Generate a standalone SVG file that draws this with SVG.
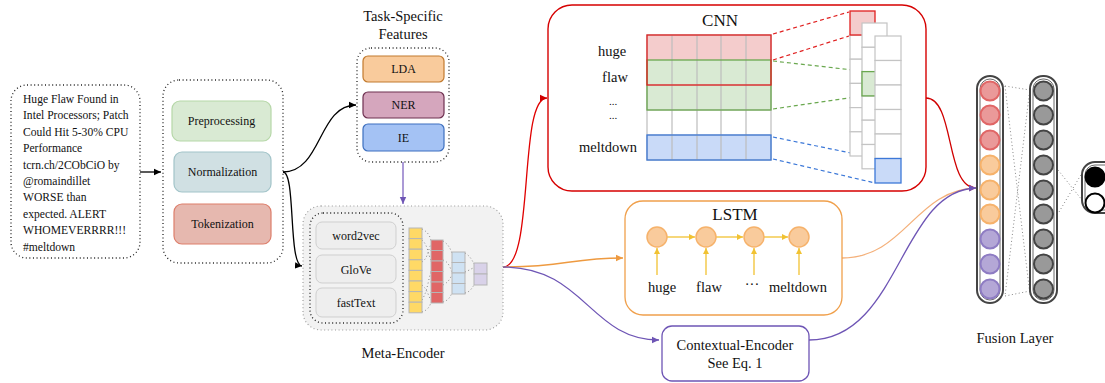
<svg xmlns="http://www.w3.org/2000/svg" width="1105" height="383" viewBox="0 0 1105 383">
<defs>
<style>
text{font-family:"Liberation Serif","Times New Roman",serif;fill:#111;}
.c{text-anchor:middle;}
.dot{fill:none;stroke:#222;stroke-width:1.3;stroke-dasharray:1 2.6;}
.gdot{fill:none;stroke:#888;stroke-width:1;stroke-dasharray:1 2.5;}
.cell{stroke:#b5b5b5;stroke-width:1;}
.fm{fill:#fff;stroke:#c4c4c4;stroke-width:1.2;}
.wire{fill:none;stroke-width:1.3;}
</style>
<marker id="ak" markerWidth="8" markerHeight="8" refX="7" refY="4" orient="auto" markerUnits="userSpaceOnUse"><path d="M0,0.8 L7,4 L0,7.2 Z" fill="#000"/></marker>
<marker id="ar" markerWidth="8" markerHeight="8" refX="7" refY="4" orient="auto" markerUnits="userSpaceOnUse"><path d="M0,0.8 L7,4 L0,7.2 Z" fill="#d00000"/></marker>
<marker id="ao" markerWidth="8" markerHeight="8" refX="7" refY="4" orient="auto" markerUnits="userSpaceOnUse"><path d="M0,0.8 L7,4 L0,7.2 Z" fill="#ee9a40"/></marker>
<marker id="ap" markerWidth="8" markerHeight="8" refX="7" refY="4" orient="auto" markerUnits="userSpaceOnUse"><path d="M0,0.8 L7,4 L0,7.2 Z" fill="#6e55b5"/></marker>
<marker id="ay" markerWidth="7" markerHeight="7" refX="6" refY="3.5" orient="auto" markerUnits="userSpaceOnUse"><path d="M0,0.5 L6,3.5 L0,6.5 Z" fill="#f1c232"/></marker>
</defs>

<g id="connectors">
<path class="wire" stroke="#000" d="M140,172 L161,172" marker-end="url(#ak)"/>
<path class="wire" stroke="#000" d="M283,172 C322,172 318,105 356,105" marker-end="url(#ak)"/>
<path class="wire" stroke="#000" d="M283,172 C296,172 288,265 302,266" marker-end="url(#ak)"/>
<path class="wire" stroke="#7e64c0" d="M403,162 L403,204" marker-end="url(#ap)"/>
<path class="wire" stroke="#e00000" d="M503,267 C535,267 518,98 547,98" marker-end="url(#ar)"/>
<path class="wire" stroke="#ee9a40" d="M503,267 C565,267 570,258 623,258" marker-end="url(#ao)"/>
<path class="wire" stroke="#6e55b5" d="M503,267 C585,267 590,340 659,340" marker-end="url(#ap)"/>
<path class="wire" stroke="#d00000" d="M926,98 C955,98 945,188 976,188" marker-end="url(#ar)"/>
<path class="wire" stroke="#f4b07a" d="M842,258 C905,258 915,190 976,188"/>
<path class="wire" stroke="#6e55b5" d="M809,340 C900,340 900,190 976,188" marker-end="url(#ap)"/>
</g>

<g id="tweet">
<rect x="11" y="85" width="129" height="173" rx="16" fill="#eeeeee" class="dot"/>
<g font-size="11.6">
<text x="23" y="103">Huge Flaw Found in</text>
<text x="23" y="119.4">Intel Processors; Patch</text>
<text x="23" y="135.8">Could Hit 5-30% CPU</text>
<text x="23" y="152.2">Performance</text>
<text x="23" y="168.6">tcrn.ch/2CObCiO by</text>
<text x="23" y="185">@romaindillet</text>
<text x="23" y="201.4">WORSE than</text>
<text x="23" y="217.8">expected. ALERT</text>
<text x="23" y="234.2">WHOMEVERRRR!!!</text>
<text x="23" y="250.6">#meltdown</text>
</g>
</g>

<g id="preprocessing-group">
<rect x="163" y="80" width="120" height="183" rx="16" fill="#fff" class="dot"/>
<g id="preprocessing"><rect x="172" y="101" width="99" height="40" rx="8" fill="#d9ead3" stroke="#b6d7a8" stroke-width="1.2"/><text class="c" x="221.5" y="125" font-size="12">Preprocessing</text></g>
<g id="normalization"><rect x="174" y="152" width="97" height="40" rx="8" fill="#d0e0e3" stroke="#a2c4c9" stroke-width="1.2"/><text class="c" x="222.5" y="176" font-size="12">Normalization</text></g>
<g id="tokenization"><rect x="174" y="204" width="97" height="40" rx="8" fill="#e6b8af" stroke="#dd7e6b" stroke-width="1.2"/><text class="c" x="222.5" y="228" font-size="12">Tokenization</text></g>
</g>

<g id="task-features">
<text class="c" x="403" y="21" font-size="14.5">Task-Specific</text>
<text class="c" x="403" y="39" font-size="14.5">Features</text>
<rect x="357" y="48" width="92" height="114" rx="14" fill="#fff" class="dot"/>
<g id="lda"><rect x="363" y="56" width="81" height="26" rx="5" fill="#f9cb9c" stroke="#c27a2e" stroke-width="1.2"/><text class="c" x="403.5" y="73" font-size="12">LDA</text></g>
<g id="ner"><rect x="363" y="92" width="81" height="26" rx="5" fill="#d5a6bd" stroke="#6e3050" stroke-width="1.2"/><text class="c" x="403.5" y="109" font-size="12">NER</text></g>
<g id="ie"><rect x="363" y="124" width="81" height="27" rx="5" fill="#a4c2f4" stroke="#3d6fbf" stroke-width="1.2"/><text class="c" x="403.5" y="142" font-size="12">IE</text></g>
</g>

<g id="meta-encoder">
<rect x="303" y="206" width="200" height="124" rx="18" fill="#f2f2f2" stroke="#999" stroke-width="1.1" stroke-dasharray="1 2.6"/>
<rect x="310" y="213" width="93" height="110" rx="13" fill="none" class="dot"/>
<g id="word2vec"><rect x="316" y="222" width="80" height="27" rx="6" fill="#eeeeee" stroke="#cfcfcf"/><text class="c" x="356" y="240" font-size="12">word2vec</text></g>
<g id="glove"><rect x="316" y="255" width="80" height="28" rx="6" fill="#eeeeee" stroke="#cfcfcf"/><text class="c" x="356" y="273.5" font-size="12">GloVe</text></g>
<g id="fasttext"><rect x="316" y="288" width="80" height="29" rx="6" fill="#eeeeee" stroke="#cfcfcf"/><text class="c" x="356" y="307" font-size="12">fastText</text></g>
<g class="gdot">
<path d="M422,229 C428,232 430,236 431,241"/><path d="M422,240 C428,245 428,255 431,260"/><path d="M422,262 C428,258 428,250 431,244"/><path d="M422,285 C428,290 428,296 431,300"/><path d="M422,300 C428,290 428,280 431,272"/><path d="M422,312 C428,310 430,306 431,302"/>
<path d="M443,241 C448,244 450,248 452,253"/><path d="M443,260 C449,262 450,268 452,272"/><path d="M443,285 C449,282 450,278 452,275"/><path d="M443,302 C449,300 450,297 452,293"/>
<path d="M465,253 C470,256 472,260 474,264"/><path d="M465,272 C470,270 472,268 474,268"/><path d="M465,293 C470,292 472,288 474,285"/>
</g>
<g class="cell" fill="#ffd966">
<rect x="409" y="228" width="13" height="10.6"/><rect x="409" y="238.6" width="13" height="10.6"/><rect x="409" y="249.2" width="13" height="10.6"/><rect x="409" y="259.8" width="13" height="10.6"/><rect x="409" y="270.4" width="13" height="10.6"/><rect x="409" y="281" width="13" height="10.6"/><rect x="409" y="291.6" width="13" height="10.6"/><rect x="409" y="302.2" width="13" height="10.6"/>
</g>
<g class="cell" fill="#e06666">
<rect x="431" y="240" width="12" height="10.5"/><rect x="431" y="250.5" width="12" height="10.5"/><rect x="431" y="261" width="12" height="10.5"/><rect x="431" y="271.5" width="12" height="10.5"/><rect x="431" y="282" width="12" height="10.5"/><rect x="431" y="292.5" width="12" height="10.5"/>
</g>
<g class="cell" fill="#cfe2f3">
<rect x="452" y="252" width="13" height="10.5"/><rect x="452" y="262.5" width="13" height="10.5"/><rect x="452" y="273" width="13" height="10.5"/><rect x="452" y="283.5" width="13" height="10.5"/>
</g>
<g class="cell" fill="#d9d2e9">
<rect x="474" y="263" width="13" height="11"/><rect x="474" y="274" width="13" height="11"/>
</g>
<text class="c" x="403" y="358" font-size="14.5">Meta-Encoder</text>
</g>

<g id="cnn">
<rect x="548" y="5" width="378" height="186" rx="24" fill="#fff" stroke="#d60000" stroke-width="1.4"/>
<text class="c" x="720" y="26" font-size="17">CNN</text>
<g font-size="14.5">
<text class="c" x="612" y="56">huge</text>
<text class="c" x="615" y="82">flaw</text>
<text class="c" x="608" y="152">meltdown</text>
</g>
<g font-size="11">
<text class="c" x="613" y="105">...</text>
<text class="c" x="613" y="119">...</text>
</g>
<rect x="647" y="35" width="124" height="25" fill="#f4cccc"/>
<rect x="647" y="60" width="124" height="50" fill="#d9ead3"/>
<rect x="647" y="110" width="124" height="25" fill="#fff"/>
<rect x="647" y="135" width="124" height="25" fill="#c9daf8"/>
<g stroke="#bdbdbd" stroke-width="1.2">
<path d="M672,35 V160 M697,35 V160 M721,35 V160 M746,35 V160 M647,85 H771 M647,110 H771 M647,135 H771"/>
<rect x="647" y="35" width="124" height="125" fill="none"/>
</g>
<rect x="647" y="60" width="124" height="50" fill="none" stroke="#6aa84f" stroke-width="1.3"/>
<rect x="647" y="35" width="124" height="50" fill="none" stroke="#e02020" stroke-width="1.3"/>
<rect x="647" y="135" width="124" height="25" fill="none" stroke="#3c78d8" stroke-width="1.3"/>
<g fill="none" stroke-width="1.2" stroke-dasharray="4 3">
<path d="M773,34 L849,12 M773,60 L849,36" stroke="#e02020"/>
<path d="M773,61 L862,71 M773,109 L862,96" stroke="#6aa84f"/>
<path d="M773,137 L875,158 M773,159 L875,183" stroke="#3c78d8"/>
</g>
<g class="fm">
<rect x="850" y="35" width="25" height="24.2"/><rect x="850" y="59.2" width="25" height="24.2"/><rect x="850" y="83.4" width="25" height="24.2"/><rect x="850" y="107.6" width="25" height="24.2"/><rect x="850" y="131.8" width="25" height="24.2"/>
</g>
<rect x="850" y="11" width="25" height="24" fill="#f4cccc" stroke="#e02020" stroke-width="1.3"/>
<g class="fm">
<rect x="862" y="23" width="25" height="24.3"/><rect x="862" y="47.3" width="25" height="24.3"/><rect x="862" y="71.6" width="25" height="24.3"/><rect x="862" y="95.9" width="25" height="24.3"/><rect x="862" y="120.2" width="25" height="24.3"/><rect x="862" y="144.5" width="25" height="24.3"/>
</g>
<rect x="862" y="71.6" width="25" height="24.3" fill="#d9ead3" stroke="#6aa84f" stroke-width="1.3"/>
<g class="fm">
<rect x="875" y="36" width="26" height="24.5"/><rect x="875" y="60.5" width="26" height="24.5"/><rect x="875" y="85" width="26" height="24.5"/><rect x="875" y="109.5" width="26" height="24.5"/><rect x="875" y="134" width="26" height="24.5"/>
</g>
<rect x="875" y="158.5" width="26" height="24.5" fill="#c9daf8" stroke="#3c78d8" stroke-width="1.3"/>
</g>

<g id="lstm">
<rect x="625" y="201" width="217" height="114" rx="18" fill="#fff" stroke="#f0a04c" stroke-width="1.3"/>
<text class="c" x="735" y="220" font-size="17">LSTM</text>
<g fill="none" stroke="#f1c232" stroke-width="1.3">
<path d="M667,237 L695,237" marker-end="url(#ay)"/><path d="M716,237 L743,237" marker-end="url(#ay)"/><path d="M764,237 L788,237" marker-end="url(#ay)"/>
<path d="M657,275 L657,248" marker-end="url(#ay)"/><path d="M706,275 L706,248" marker-end="url(#ay)"/><path d="M754,275 L754,248" marker-end="url(#ay)"/><path d="M799,275 L799,248" marker-end="url(#ay)"/>
</g>
<g fill="#f9cb9c" stroke="#f6b26b" stroke-width="1.5">
<circle cx="657" cy="237" r="10"/><circle cx="706" cy="237" r="10"/><circle cx="754" cy="237" r="10"/><circle cx="799" cy="237" r="10"/>
</g>
<g font-size="14.5">
<text class="c" x="662" y="292">huge</text>
<text class="c" x="709" y="292">flaw</text>
<text class="c" x="752" y="289">···</text>
<text class="c" x="798" y="292">meltdown</text>
</g>
</g>

<g id="contextual-encoder">
<rect x="662" y="326" width="147" height="55" rx="10" fill="#fff" stroke="#6e55b5" stroke-width="1.3"/>
<text class="c" x="735" y="350" font-size="14.5">Contextual-Encoder</text>
<text class="c" x="735" y="368" font-size="14.5">See Eq. 1</text>
</g>

<g id="fusion-layer">
<g class="gdot" stroke="#777">
<path d="M1005,86 L1030,90 M1005,86 L1030,295 M1030,88 L1005,296 M1005,296 L1030,291"/>
</g>
<rect x="977" y="76" width="26" height="227" rx="13" fill="#fff" stroke="#444" stroke-width="2"/>
<rect x="980" y="79" width="20" height="221" rx="10" fill="none" stroke="#444" stroke-width="0.8"/>
<g stroke-width="2">
<g fill="#ea9999" stroke="#e06666"><circle cx="990" cy="91" r="9.5"/><circle cx="990" cy="115" r="9.5"/><circle cx="990" cy="140" r="9.5"/></g>
<g fill="#f9cb9c" stroke="#f6b26b"><circle cx="990" cy="165" r="9.5"/><circle cx="990" cy="190" r="9.5"/><circle cx="990" cy="214" r="9.5"/></g>
<g fill="#b4a7d6" stroke="#8e7cc3"><circle cx="990" cy="239" r="9.5"/><circle cx="990" cy="264" r="9.5"/><circle cx="990" cy="289" r="9.5"/></g>
</g>
<rect x="1030" y="76" width="27" height="227" rx="13" fill="#fff" stroke="#444" stroke-width="2"/>
<rect x="1033" y="79" width="21" height="221" rx="10" fill="none" stroke="#444" stroke-width="0.8"/>
<g fill="#999" stroke="#444" stroke-width="2">
<circle cx="1043.5" cy="91" r="9.5"/><circle cx="1043.5" cy="115" r="9.5"/><circle cx="1043.5" cy="140" r="9.5"/><circle cx="1043.5" cy="165" r="9.5"/><circle cx="1043.5" cy="190" r="9.5"/><circle cx="1043.5" cy="214" r="9.5"/><circle cx="1043.5" cy="239" r="9.5"/><circle cx="1043.5" cy="264" r="9.5"/><circle cx="1043.5" cy="289" r="9.5"/>
</g>
<text class="c" x="1015" y="343" font-size="14.5">Fusion Layer</text>
</g>

<g id="output">
<path class="gdot" stroke="#777" d="M1058,170 L1082,200 M1059,212 L1082,173"/>
<rect x="1082" y="162" width="40" height="51" rx="13" fill="#fff" stroke="#444" stroke-width="2"/>
<rect x="1085" y="165" width="34" height="45" rx="10" fill="none" stroke="#444" stroke-width="0.8"/>
<circle cx="1095" cy="177" r="9.5" fill="#000" stroke="#000" stroke-width="2"/>
<circle cx="1095" cy="203" r="9.5" fill="#fff" stroke="#000" stroke-width="2"/>
</g>
</svg>
